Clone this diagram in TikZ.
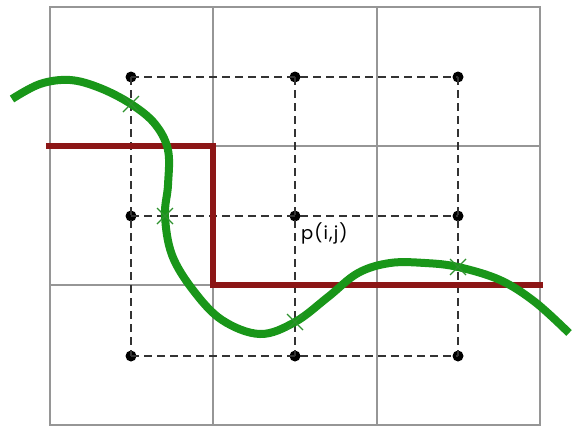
\documentclass[tikz,border=0pt]{standalone}
\usepackage{fontspec}
\newfontfamily\lblfont[LetterSpace=6]{Poppins}
\definecolor{gridgray}{RGB}{150,150,150}
\definecolor{curvegreen}{RGB}{25,150,25}
\definecolor{boundred}{RGB}{140,22,22}
\begin{document}
\begin{tikzpicture}[x=1pt,y=-1pt,
  gridline/.style={draw=gridgray,line width=1.8pt},
  dashline/.style={draw=black!80,line width=1.8pt,dash pattern=on 8pt off 5pt},
  dot/.style={circle,fill=black,inner sep=0pt,minimum size=11pt},
  crossmark/.style={draw=curvegreen!80!gray,line width=1.2pt},
  lbl/.style={font=\lblfont\fontsize{18}{18}\selectfont,inner sep=0pt}]
\useasboundingbox (0,0) rectangle (575,426);
% outer grid
\draw[gridline] (50,7) rectangle (540,425);
\draw[gridline] (213,7) -- (213,425);
\draw[gridline] (377,7) -- (377,425);
\draw[gridline] (50,146) -- (540,146);
\draw[gridline] (50,285) -- (540,285);
% dots
\foreach \n/\x in {a/131,b/295,c/458}{
  \foreach \m/\y in {1/77,2/216,3/356}{
    \node[dot] (\n\m) at (\x,\y) {};
  }
}
% dashed grid
\foreach \m in {1,2,3}{
  \draw[dashline] (a\m.center) -- (b\m.center) -- (c\m.center);
}
\foreach \n in {a,b,c}{
  \draw[dashline] (\n1.center) -- (\n2.center) -- (\n3.center);
}
\node[lbl,anchor=west] (pij) at (301,233) {p(i,j)};
% red boundary
\draw[boundred,line width=5.5pt,line join=miter] (46,146) -- (213,146) -- (213,285) -- (543,285);
% green curve
\draw[curvegreen,line width=8pt,line cap=butt] plot[smooth,tension=0.6] coordinates {
  (12,99) (40,84) (70,80) (100,88) (131,104) (155,124) (168,150) (168,185)
  (165,216) (172,255) (193,290) (222,320) (260,334) (295,322) (328,297)
  (358,273) (390,263) (425,263) (458,267) (500,280) (535,302) (569,333)};
% cross marks
\foreach \p in {(131,104),(165,216),(295,322),(458,267)}{
  \draw[crossmark] \p ++(-8,-8) -- ++(16,16);
  \draw[crossmark] \p ++(-8,8) -- ++(16,-16);
}
\end{tikzpicture}
\end{document}
